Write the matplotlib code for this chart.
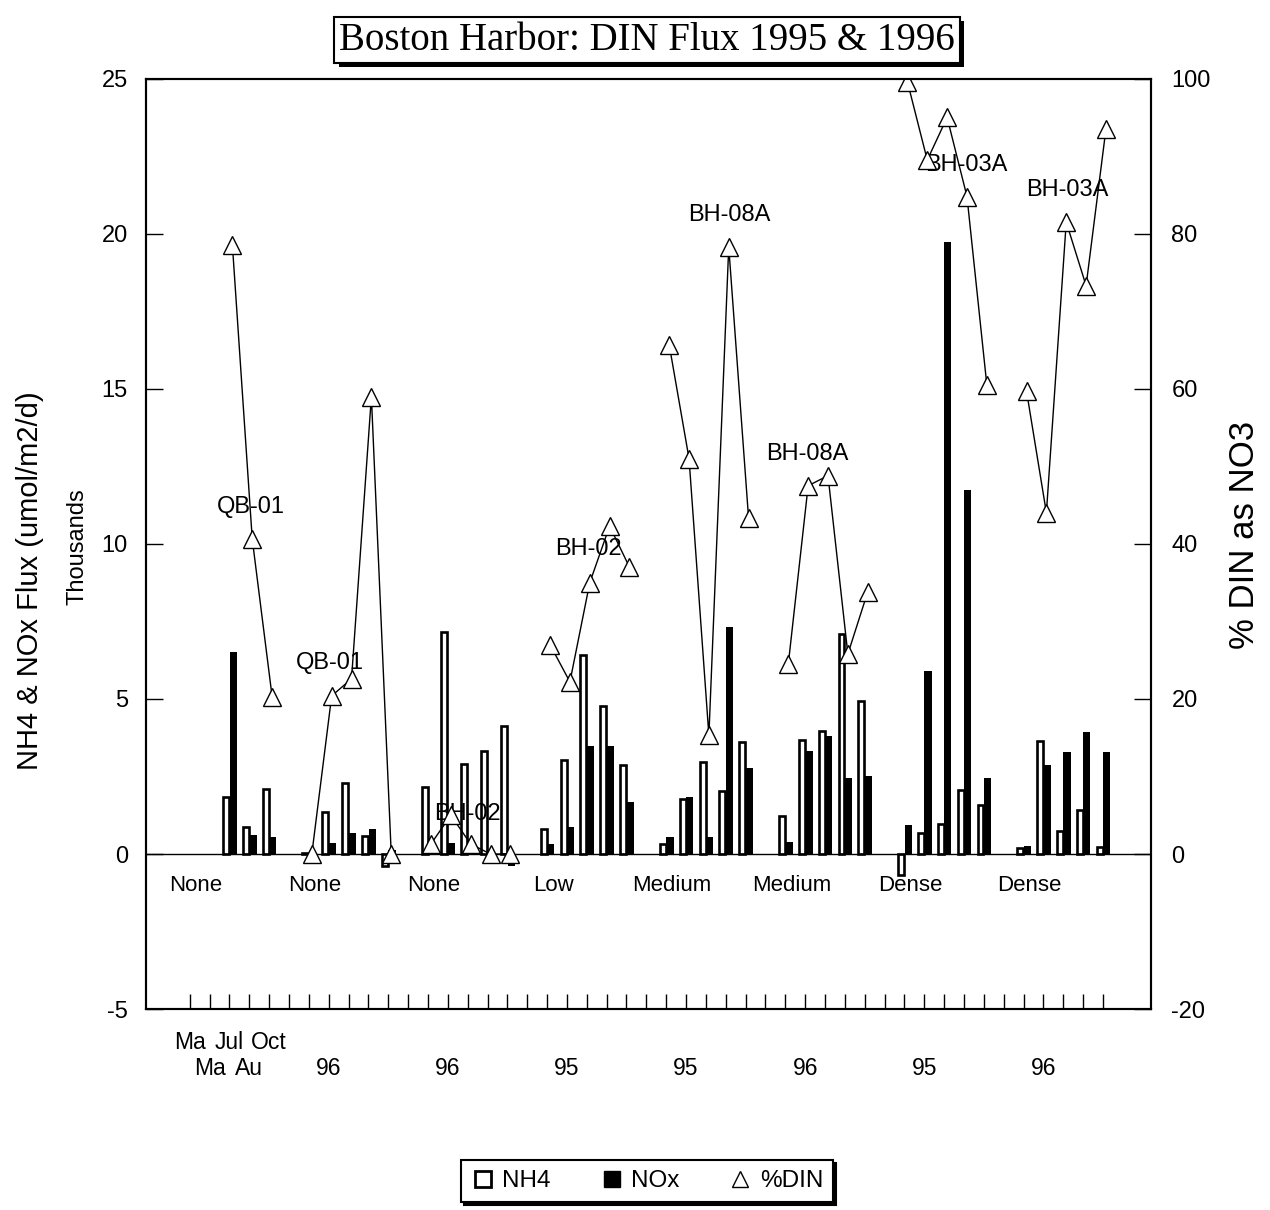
import numpy as np
import matplotlib
matplotlib.use("Agg")
import matplotlib.pyplot as plt
from matplotlib.lines import Line2D
from matplotlib import patheffects

plt.rcParams['font.family'] = ['Liberation Sans', 'DejaVu Sans']
plt.rcParams['axes.unicode_minus'] = False

nan = np.nan

# one row per station/year group, five sampling months in each
nh4 = [
    [nan, nan, 1.83, 0.88, 2.10],
    [0.05, 1.35, 2.29, 0.59, -0.40],
    [2.17, 7.15, 2.90, 3.32, 4.13],
    [0.80, 3.03, 6.43, 4.78, 2.87],
    [0.32, 1.77, 2.98, 2.04, 3.62],
    [1.24, 3.69, 3.98, 7.10, 4.93],
    [-0.67, 0.68, 0.97, 2.07, 1.58],
    [0.21, 3.63, 0.75, 1.42, 0.24],
]
nox = [
    [nan, nan, 6.50, 0.61, 0.55],
    [0.04, 0.35, 0.68, 0.80, 0.12],
    [0.00, 0.37, 0.10, 0.00, -0.38],
    [0.32, 0.86, 3.47, 3.49, 1.69],
    [0.54, 1.83, 0.56, 7.31, 2.76],
    [0.40, 3.33, 3.82, 2.45, 2.53],
    [0.94, 5.91, 19.74, 11.74, 2.45],
    [0.27, 2.87, 3.30, 3.95, 3.30],
]
din = [
    [nan, nan, 78.5, 40.6, 20.3],
    [0.0, 20.4, 22.6, 59.0, 0.0],
    [1.3, 5.0, 1.3, 0.0, 0.0],
    [27.0, 22.2, 35.0, 42.3, 37.0],
    [65.7, 51.0, 15.3, 78.3, 43.3],
    [24.5, 47.5, 48.8, 25.8, 33.8],
    [99.6, 89.5, 95.0, 84.8, 60.5],
    [59.7, 44.0, 81.5, 73.3, 93.5],
]

density = ["None", "None", "None", "Low", "Medium", "Medium", "Dense", "Dense"]
years = ["", "96", "96", "95", "95", "96", "95", "96"]
stations = ["QB-01", "QB-01", "BH-02", "BH-02", "BH-08A", "BH-08A", "BH-03A", "BH-03A"]
station_xy = [(4.07, 11.2), (8.05, 6.15), (15.0, 1.3), (21.1, 9.85),
              (28.2, 20.6), (32.1, 12.9), (40.1, 22.2), (45.2, 21.4)]
month_row1 = {1: "Ma", 3: "Jul", 5: "Oct"}
month_row2 = {2: "Ma", 4: "Au"}

fig = plt.figure(figsize=(12.7, 12.1), dpi=100)
ax = fig.add_axes([0.115, 0.166, 0.791, 0.769])
ax2 = ax.twinx()

for g in range(len(nh4)):
    x = 1 + 6 * g + np.arange(5)
    ax.bar(x - 0.17, nh4[g], width=0.30, facecolor='white', edgecolor='black', linewidth=1.9)
    ax.bar(x + 0.19, nox[g], width=0.36, color='black')
    ax2.plot(x + 0.15, din[g], color='black', lw=1, marker='^', ms=13,
             mfc='white', mec='black', mew=1)
    ax.text(6 * g + 1.3, -1.0, density[g], ha='center', va='center', fontsize=16)
    ax.text(station_xy[g][0], station_xy[g][1], stations[g], ha='center', va='center', fontsize=17)
    if years[g]:
        ax.text(6 * g + 2, -6.9, years[g], ha='center', va='center', fontsize=16.5, clip_on=False)

for k in month_row1:
    ax.text(k, -6.06, month_row1[k], ha='center', va='center', fontsize=16.5, clip_on=False)
for k in month_row2:
    ax.text(k, -6.9, month_row2[k], ha='center', va='center', fontsize=16.5, clip_on=False)

ax.axhline(0, color='black', lw=1)
ax.set_xlim(-1.2, 49.4)
ax.set_ylim(-5, 25)
ax.set_yticks(range(-5, 26, 5))
ax.set_xticks(range(1, 48))
ax.set_xticklabels([])
ax.tick_params(axis='y', direction='in', length=12, width=1, labelsize=17, pad=13)
ax.tick_params(axis='x', direction='in', length=11, width=1)
ax2.set_ylim(-20, 100)
ax2.set_yticks(range(-20, 101, 20))
ax2.tick_params(axis='y', direction='in', length=12, width=1, labelsize=17, pad=15)
for a in (ax, ax2):
    for s in a.spines.values():
        s.set_linewidth(1.5)

fig.text(30 / 1270, 1 - 581 / 1210, "NH4 & NOx Flux (umol/m2/d)", rotation=90,
         ha='center', va='center', fontsize=21)
fig.text(78 / 1270, 1 - 547 / 1210, "Thousands", rotation=90,
         ha='center', va='center', fontsize=17)
fig.text(1245 / 1270, 1 - 535 / 1210, "% DIN as NO3", rotation=90,
         ha='center', va='center', fontsize=25)

title = fig.text(647 / 1270, 1 - 40 / 1210, "Boston Harbor: DIN Flux 1995 & 1996",
                 ha='center', va='center', fontsize=28, family='Liberation Serif',
                 bbox=dict(boxstyle='square,pad=0.12', fc='white', ec='black', lw=1.5))
title.get_bbox_patch().set_path_effects([
    patheffects.SimplePatchShadow(offset=(3, -3), shadow_rgbFace='black', alpha=1),
    patheffects.Normal()])

handles = [
    Line2D([], [], ls='none', marker='s', ms=11, mfc='white', mec='black', mew=2),
    Line2D([], [], ls='none', marker='s', ms=11, mfc='black', mec='black'),
    Line2D([], [], ls='none', marker='^', ms=11, mfc='white', mec='black', mew=1),
]
leg = fig.legend(handles, ["NH4", "NOx", "%DIN"], loc='center',
                 bbox_to_anchor=(647 / 1270, 1 - 1181 / 1210), ncol=3, fontsize=17.5,
                 frameon=True, fancybox=False, edgecolor='black', handletextpad=0.3,
                 columnspacing=2.0, handlelength=1.0, borderpad=0.4,
                 shadow={'color': 'black', 'alpha': 1})
leg.get_frame().set_linewidth(1.5)

fig.savefig("out.png", dpi=100)
